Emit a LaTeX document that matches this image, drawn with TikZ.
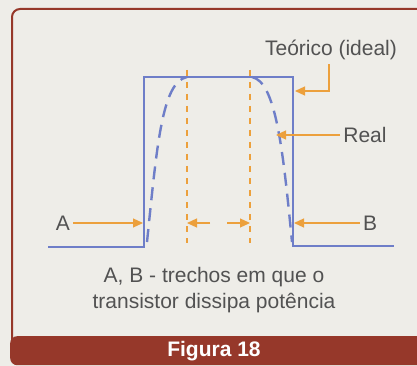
\documentclass[tikz,border=0pt]{standalone}
\usepackage{fontspec}
\setmainfont{Liberation Sans}
\usepackage{tikz}
\usetikzlibrary{arrows.meta, positioning, calc}
\definecolor{paper}{RGB}{238,237,232}
\definecolor{framered}{RGB}{150,56,42}
\definecolor{wavebl}{RGB}{110,126,200}
\definecolor{accent}{RGB}{236,160,60}
\definecolor{ink}{RGB}{82,82,82}

\begin{document}
\begin{tikzpicture}[x=1pt, y=-1pt,
  txt/.style={text=ink, font=\fontsize{21}{26}\selectfont, inner sep=0pt},
  pointer/.style={draw=accent, line width=1.2pt, -{Triangle[length=10pt, width=9pt]}, shorten <=3pt},
  guide/.style={draw=accent, line width=1.3pt, dash pattern=on 6pt off 6pt},
  ideal/.style={draw=wavebl, line width=1.6pt},
  realwave/.style={draw=wavebl, line width=2.4pt, dash pattern=on 13pt off 8pt}
]
  \useasboundingbox (0,0) rectangle (417,366);
  \clip (0,0) rectangle (417,366);
  \fill[paper] (0,0) rectangle (417,366);

  % frame and caption bar
  \draw[framered, line width=2pt, rounded corners=8pt] (12,9) rectangle (440,350);
  \node[fill=framered, rounded corners=7pt, minimum width=420pt, minimum height=29pt,
        anchor=north west, inner sep=0pt] (bar) at (10,336) {};
  \node[text=white, font=\bfseries\fontsize{21}{24}\selectfont] (fig) at (214,351) {Figura 18};

  % ideal and real waveforms
  \draw[ideal] (48,247) -- (144,247) -- (144,77) -- (293,77) -- (293,246) -- (394,246);
  \draw[realwave] (147,242) .. controls (157,145) and (162,82) .. (187,77);
  \draw[realwave] (252,77) .. controls (276,82) and (283,150) .. (292,242);

  % transition limits
  \coordinate (g1top) at (187,70);  \coordinate (g1bot) at (187,243);
  \coordinate (g2top) at (250,70);  \coordinate (g2bot) at (250,243);
  \draw[guide] (g1top) -- (g1bot);
  \draw[guide] (g2top) -- (g2bot);

  \coordinate (rise) at (143,223);
  \coordinate (fall) at (294,223);
  \coordinate (mid1) at (210,223);
  \coordinate (mid2) at (227,223);
  \coordinate (edgeT) at (295,91);
  \coordinate (edgeR) at (276,135);

  \node[txt] (A) at (63,223) {A};
  \node[txt] (B) at (370,223) {B};
  \node[txt] (teorico) at (331,50) {Teórico (ideal)};
  \node[txt] (real) at (365,135) {Real};

  \draw[pointer] (A.east) -- (rise);
  \draw[pointer] (B.west) -- (fall);
  \draw[pointer, shorten <=0pt] (mid1) -- (g1top |- mid1);
  \draw[pointer, shorten <=0pt] (mid2) -- (g2top |- mid2);
  \draw[pointer, shorten <=4pt] (teorico.south -| 329,0) |- (edgeT);
  \draw[pointer] (real.west) -- (edgeR);

  \node[txt, align=center] (caption) at (214,290)
    {A, B - trechos em que o\\transistor dissipa potência};
\end{tikzpicture}
\end{document}
